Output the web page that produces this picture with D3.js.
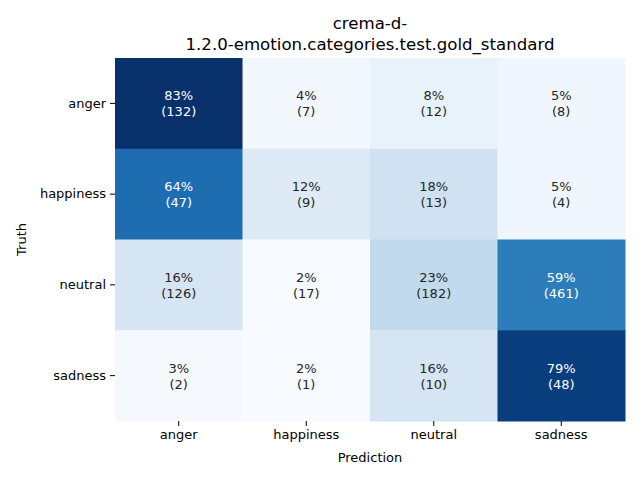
<!DOCTYPE html>
<html>
<head>
<meta charset="utf-8">
<script src="https://cdn.jsdelivr.net/npm/d3@7"></script>
<style>
  body { margin: 0; background: #fff; }
  text { font-family: "DejaVu Sans", sans-serif; }
</style>
</head>
<body>
<div id="chart"></div>
<script>
var labels = ["anger", "happiness", "neutral", "sadness"];
// rows = truth, columns = prediction
var percents = [
  [83, 4, 8, 5],
  [64, 12, 18, 5],
  [16, 2, 23, 59],
  [3, 2, 16, 79]
];
var counts = [
  [132, 7, 12, 8],
  [47, 9, 13, 4],
  [126, 17, 182, 461],
  [2, 1, 10, 48]
];

var svgWidth = 640, svgHeight = 480;
var margin = { top: 58, right: 15, bottom: 59, left: 115 };
var chartWidth = svgWidth - margin.left - margin.right;
var chartHeight = svgHeight - margin.top - margin.bottom;

var svg = d3.select("#chart").append("svg")
  .attr("width", svgWidth)
  .attr("height", svgHeight);

var chartGroup = svg.append("g")
  .attr("transform", `translate(${margin.left}, ${margin.top})`);

var xScale = d3.scaleBand().domain(labels).range([0, chartWidth]);
var yScale = d3.scaleBand().domain(labels).range([0, chartHeight]);

var flat = [];
percents.forEach(function(row, i) {
  row.forEach(function(p, j) {
    flat.push({ truth: labels[i], pred: labels[j], p: p, n: counts[i][j] });
  });
});

var color = d3.scaleSequential(d3.interpolateBlues)
  .domain([d3.min(flat, d => d.p), d3.max(flat, d => d.p)]);

chartGroup.selectAll("rect")
  .data(flat)
  .enter()
  .append("rect")
  .attr("x", d => xScale(d.pred))
  .attr("y", d => yScale(d.truth))
  .attr("width", xScale.bandwidth() + 0.5)
  .attr("height", yScale.bandwidth() + 0.5)
  .attr("fill", d => color(d.p));

var cellText = chartGroup.selectAll("text.cell")
  .data(flat)
  .enter()
  .append("text")
  .attr("class", "cell")
  .attr("text-anchor", "middle")
  .attr("font-size", "13px")
  .attr("fill", d => d.p > 45 ? "#ffffff" : "#262626");

cellText.append("tspan")
  .attr("x", d => xScale(d.pred) + xScale.bandwidth() / 2)
  .attr("y", d => yScale(d.truth) + yScale.bandwidth() / 2 - 3)
  .text(d => d.p + "%");
cellText.append("tspan")
  .attr("x", d => xScale(d.pred) + xScale.bandwidth() / 2)
  .attr("y", d => yScale(d.truth) + yScale.bandwidth() / 2 + 13)
  .text(d => "(" + d.n + ")");

var xAxis = d3.axisBottom(xScale).tickSize(5).tickPadding(4);
var yAxis = d3.axisLeft(yScale).tickSize(5).tickPadding(4);

var gx = chartGroup.append("g")
  .attr("transform", `translate(0, ${chartHeight})`)
  .call(xAxis);
var gy = chartGroup.append("g").call(yAxis);

[gx, gy].forEach(function(g) {
  g.select(".domain").remove();
  g.selectAll("text").attr("font-size", "13px").attr("fill", "#000")
    .style("font-family", "'DejaVu Sans', sans-serif");
  g.selectAll("line").attr("stroke", "#000");
});

svg.append("text")
  .attr("x", margin.left + chartWidth / 2)
  .attr("y", 462)
  .attr("text-anchor", "middle")
  .attr("font-size", "13px")
  .text("Prediction");

svg.append("text")
  .attr("transform", `translate(26, ${margin.top + chartHeight / 2}) rotate(-90)`)
  .attr("text-anchor", "middle")
  .attr("font-size", "13px")
  .text("Truth");

var title = svg.append("text")
  .attr("text-anchor", "middle")
  .attr("font-size", "16.6px");
title.append("tspan")
  .attr("x", margin.left + chartWidth / 2)
  .attr("y", 29)
  .text("crema-d-");
title.append("tspan")
  .attr("x", margin.left + chartWidth / 2)
  .attr("y", 50)
  .text("1.2.0-emotion.categories.test.gold_standard");
</script>
</body>
</html>
